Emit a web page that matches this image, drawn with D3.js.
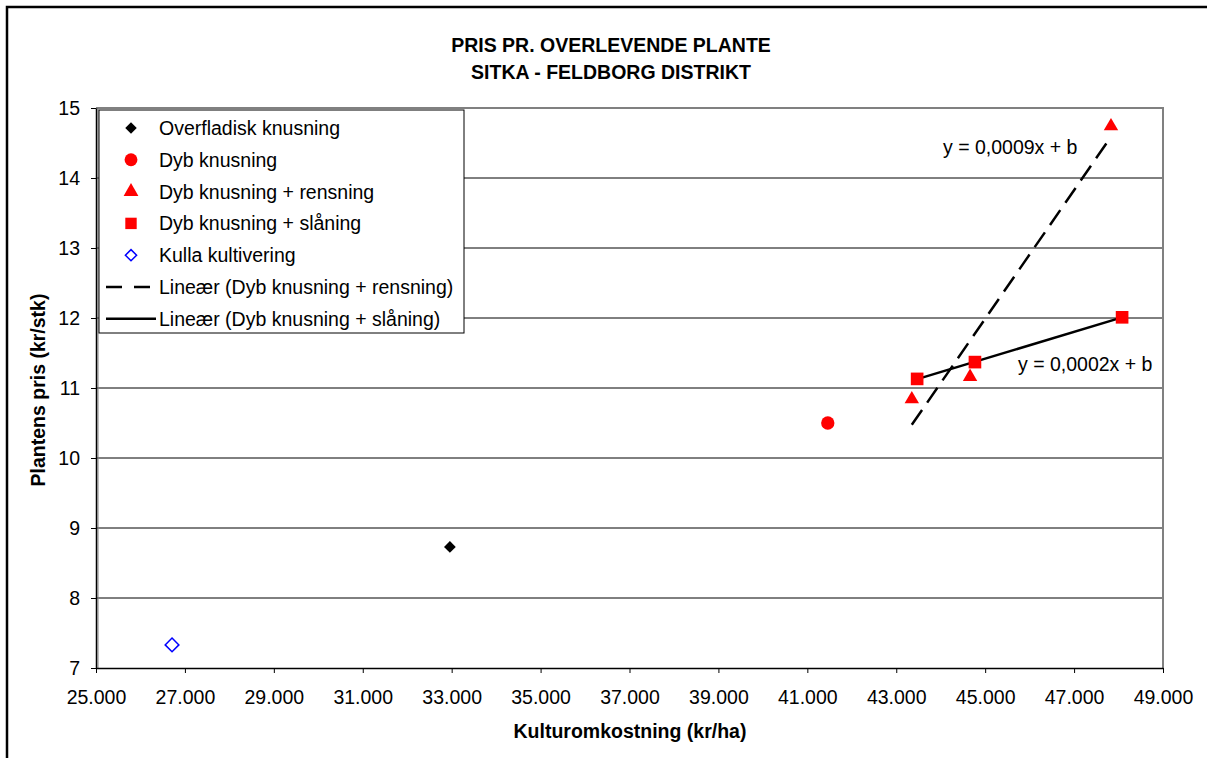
<!DOCTYPE html>
<html>
<head>
<meta charset="utf-8">
<script src="https://cdn.jsdelivr.net/npm/d3@7"></script>
<style>
  body { margin: 0; background: #fff; }
  svg { display: block; font-family: Arial, "Liberation Sans", sans-serif; }
</style>
</head>
<body>
<svg id="chart" width="1207" height="758"></svg>
<script>
// ---- data ----
const titleLines = ["PRIS PR. OVERLEVENDE PLANTE", "SITKA - FELDBORG DISTRIKT"];
const xTitle = "Kulturomkostning (kr/ha)";
const yTitle = "Plantens pris (kr/stk)";
const xTicks = [25000, 27000, 29000, 31000, 33000, 35000, 37000, 39000, 41000, 43000, 45000, 47000, 49000];
const yTicks = [7, 8, 9, 10, 11, 12, 13, 14, 15];

const overfladiskX = [32960];
const overfladiskY = [8.73];
const dybX = [41460];
const dybY = [10.50];
const rensningX = [43350, 44660, 47830];
const rensningY = [10.84, 11.16, 14.74];
const slaaningX = [43470, 44770, 48080];
const slaaningY = [11.13, 11.37, 12.01];
const kullaX = [26710];
const kullaY = [7.33];

const seriesNames = ["Overfladisk knusning", "Dyb knusning", "Dyb knusning + rensning", "Dyb knusning + slåning", "Kulla kultivering"];
const trendNames = ["Lineær (Dyb knusning + rensning)", "Lineær (Dyb knusning + slåning)"];
const trendLabels = ["y = 0,0009x + b", "y = 0,0002x + b"];

// ---- layout ----
const FS = 19.5;
const svg = d3.select("#chart");
const L = 96, R = 1163, T = 108, B = 668;
const x = d3.scaleLinear().domain([25000, 49000]).range([L, R]);
const y = d3.scaleLinear().domain([7, 15]).range([B, T]);
const fmt = d => d3.format(",")(d).replace(/,/g, ".");

// outer frame (left + top)
svg.append("path").attr("d", `M7,758 L7,7 L1207,7`).attr("fill", "none").attr("stroke", "#000").attr("stroke-width", 2.5);

// title
svg.append("text").attr("x", 611).attr("y", 52).attr("text-anchor", "middle")
  .attr("font-size", FS).attr("font-weight", "bold").text(titleLines[0]);
svg.append("text").attr("x", 611).attr("y", 79).attr("text-anchor", "middle")
  .attr("font-size", FS).attr("font-weight", "bold").text(titleLines[1]);

// gridlines
svg.append("g").selectAll("line").data(yTicks.filter(d => d > 7 && d < 15)).join("line")
  .attr("x1", L).attr("x2", R).attr("y1", d => y(d)).attr("y2", d => y(d))
  .attr("stroke", "#000").attr("stroke-width", 1);

// plot border (top + right gray)
svg.append("path").attr("d", `M${L},${T} L${R},${T} L${R},${B}`).attr("fill", "none")
  .attr("stroke", "#808080").attr("stroke-width", 2);
svg.append("line").attr("x1", L + 2).attr("x2", L + 2).attr("y1", T).attr("y2", B)
  .attr("stroke", "#808080").attr("stroke-width", 1);

// axes
const xAxis = d3.axisBottom(x).tickValues(xTicks).tickFormat(fmt).tickSize(5).tickSizeOuter(0);
const gx = svg.append("g").attr("transform", `translate(0,${B})`).call(xAxis);
gx.select(".domain").attr("stroke", "#000").attr("stroke-width", 1.5);
gx.selectAll(".tick line").attr("stroke", "#000");
gx.selectAll("text").attr("font-size", FS).attr("font-family", "Arial, 'Liberation Sans', sans-serif").attr("fill", "#000").attr("y", 36).attr("dy", 0);

const yAxis = d3.axisLeft(y).tickValues(yTicks).tickFormat(d3.format("d")).tickSize(5).tickSizeOuter(0);
const gy = svg.append("g").attr("transform", `translate(${L},0)`).call(yAxis);
gy.select(".domain").attr("stroke", "#000").attr("stroke-width", 1.5);
gy.selectAll(".tick line").attr("stroke", "#000");
gy.selectAll("text").attr("font-size", FS).attr("font-family", "Arial, 'Liberation Sans', sans-serif").attr("fill", "#000").attr("x", -16);

// axis titles
svg.append("text").attr("x", 630).attr("y", 738).attr("text-anchor", "middle")
  .attr("font-size", FS).attr("font-weight", "bold").text(xTitle);
svg.append("text").attr("transform", `translate(45,${(T + B) / 2 + 2}) rotate(-90)`).attr("text-anchor", "middle")
  .attr("font-size", FS).attr("font-weight", "bold").text(yTitle);

// trendlines (least squares)
function linreg(xs, ys) {
  const mx = d3.mean(xs), my = d3.mean(ys);
  let sxy = 0, sxx = 0;
  xs.forEach((v, i) => { sxy += (v - mx) * (ys[i] - my); sxx += (v - mx) ** 2; });
  const m = sxy / sxx;
  return { m, b: my - m * mx };
}
const r1 = linreg(rensningX, rensningY);
const r2 = linreg(slaaningX, slaaningY);
const ex1 = d3.extent(rensningX), ex2 = d3.extent(slaaningX);
svg.append("line").attr("x1", x(ex1[0])).attr("y1", y(r1.m * ex1[0] + r1.b))
  .attr("x2", x(ex1[1])).attr("y2", y(r1.m * ex1[1] + r1.b))
  .attr("stroke", "#000").attr("stroke-width", 2.5).attr("stroke-dasharray", "18,9");
svg.append("line").attr("x1", x(ex2[0])).attr("y1", y(r2.m * ex2[0] + r2.b))
  .attr("x2", x(ex2[1])).attr("y2", y(r2.m * ex2[1] + r2.b))
  .attr("stroke", "#000").attr("stroke-width", 2.5);

// trend labels
svg.append("text").attr("x", 943).attr("y", 154).attr("font-size", FS).text(trendLabels[0]);
svg.append("text").attr("x", 1018).attr("y", 371).attr("font-size", FS).text(trendLabels[1]);

// markers
const sym = {
  diamond: d3.symbol().type(d3.symbolDiamond2).size(88),
  circle: d3.symbol().type(d3.symbolCircle).size(140),
  triangle: d3.symbol().type(d3.symbolTriangle).size(90),
  square: d3.symbol().type(d3.symbolSquare).size(160)
};
function plot(xs, ys, s, fill, stroke) {
  svg.append("g").selectAll("path").data(xs).join("path")
    .attr("d", s)
    .attr("transform", (d, i) => `translate(${x(d)},${y(ys[i])})`)
    .attr("fill", fill).attr("stroke", stroke || "none").attr("stroke-width", 1.5);
}
plot(overfladiskX, overfladiskY, sym.diamond, "#000");
plot(dybX, dybY, sym.circle, "#ff0000");
plot(rensningX, rensningY, sym.triangle, "#ff0000");
plot(slaaningX, slaaningY, sym.square, "#ff0000");
plot(kullaX, kullaY, d3.symbol().type(d3.symbolDiamond2).size(120), "none", "#0000ff");

// legend
const lg = svg.append("g");
lg.append("rect").attr("x", 99).attr("y", 110).attr("width", 365).attr("height", 223)
  .attr("fill", "#fff").attr("stroke", "#000").attr("stroke-width", 1);
const legItems = [
  { name: seriesNames[0], s: d3.symbol().type(d3.symbolDiamond2).size(85), fill: "#000" },
  { name: seriesNames[1], s: d3.symbol().type(d3.symbolCircle).size(130), fill: "#ff0000" },
  { name: seriesNames[2], s: d3.symbol().type(d3.symbolTriangle).size(95), fill: "#ff0000" },
  { name: seriesNames[3], s: d3.symbol().type(d3.symbolSquare).size(130), fill: "#ff0000" },
  { name: seriesNames[4], s: d3.symbol().type(d3.symbolDiamond2).size(80), fill: "none", stroke: "#0000ff" },
  { name: trendNames[0], line: "dash" },
  { name: trendNames[1], line: "solid" }
];
legItems.forEach((it, i) => {
  const cy = 128 + i * 31.8;
  if (it.line) {
    lg.append("line").attr("x1", 106).attr("x2", 156).attr("y1", cy).attr("y2", cy)
      .attr("stroke", "#000").attr("stroke-width", 2.5)
      .attr("stroke-dasharray", it.line === "dash" ? "16,12" : null);
  } else {
    lg.append("path").attr("d", it.s).attr("transform", `translate(131,${cy})`)
      .attr("fill", it.fill).attr("stroke", it.stroke || "none").attr("stroke-width", 1.5);
  }
  lg.append("text").attr("x", 159).attr("y", cy + 7).attr("font-size", FS).text(it.name);
});
</script>
</body>
</html>
